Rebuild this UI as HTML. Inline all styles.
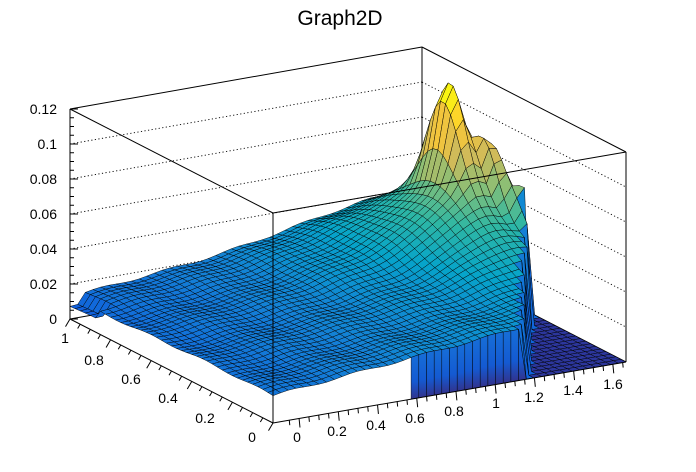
<!DOCTYPE html>
<html><head><meta charset="utf-8"><style>
html,body{margin:0;padding:0;background:#fff;}
svg{display:block;font-family:"Liberation Sans",sans-serif;}
</style></head><body>
<svg id="s" width="696" height="472" viewBox="0 0 696 472" xmlns="http://www.w3.org/2000/svg">
<defs><linearGradient id="wg" x1="0" y1="0" x2="0" y2="1"><stop offset="0" stop-color="rgb(22,110,215)"/><stop offset="0.6" stop-color="rgb(20,90,210)"/><stop offset="1" stop-color="rgb(50,50,140)"/></linearGradient></defs>
<rect width="696" height="472" fill="#fff"/>
<text x="340" y="25" font-size="21" text-anchor="middle">Graph2D</text>
<g id="back" stroke="#000" stroke-width="1" fill="none"></g>
<g id="surf" stroke="#000" stroke-width="0.45" stroke-linejoin="round"></g>
<g id="front" stroke="#000" stroke-width="1" fill="none"></g>
<g id="labels" font-size="14" fill="#000"></g>
</svg>
<script>
const NS="http://www.w3.org/2000/svg";
function P(xt,yt,zt){return [273+353*xt-203*yt, 423-61*xt-104*yt-210*zt];}
function el(g,tag,attrs,txt){const e=document.createElementNS(NS,tag);for(const k in attrs)e.setAttribute(k,attrs[k]);if(txt!==undefined)e.textContent=txt;document.getElementById(g).appendChild(e);return e;}
function line(g,a,b,extra){el(g,'line',Object.assign({x1:a[0],y1:a[1],x2:b[0],y2:b[1]},extra||{}));}
for(let k=1;k<=5;k++){
 const d=35*k;
 line('back',[70,319-d],[422,257-d],{'stroke-dasharray':'1.2,2.4','stroke-width':0.9});
 line('back',[422,257-d],[626,362-d],{'stroke-dasharray':'1.2,2.4','stroke-width':0.9});
}
line('back',[70,109],[422,47]);line('back',[422,47],[626,152]);
line('back',[422,47],[422,257]);line('back',[70,109],[70,319]);line('back',[626,152],[626,362]);
line('back',[70,319],[422,257]);line('back',[422,257],[626,362]);
const pal=[[0.2082,0.1664,0.5293],[0.0592,0.3599,0.8684],[0.0780,0.5041,0.8385],[0.0232,0.6419,0.7914],[0.1802,0.7178,0.6425],[0.5301,0.7492,0.4662],[0.8186,0.7328,0.3499],[0.9956,0.7862,0.1968],[0.9764,0.9832,0.0539]];
function col(v){v=Math.max(0,Math.min(1,v));const f=v*(pal.length-1);const i=Math.min(pal.length-2,Math.floor(f));const t=f-i;
 const c=pal[i].map((a,j)=>Math.round(255*(a+(pal[i+1][j]-a)*t)));return `rgb(${c[0]},${c[1]},${c[2]})`;}
function bound(yt){return 0.71+0.6*yt;}
function g(xt,yt,cx,cy,sx,sy){return Math.exp(-Math.pow((xt-cx)/sx,2)-Math.pow((yt-cy)/sy,2));}
function Z(xt,yt){
 if(xt>bound(yt))return 0;
 let z=0.11+0.17*xt+0.02*(1-yt)+0.006*Math.sin(xt*33+yt*5)+0.005*Math.sin(yt*23);
 z+=0.5*g(xt,yt,0.91,0.72,0.04,0.11);
 z+=0.32*g(xt,yt,0.97,0.62,0.025,0.09);
 z+=0.2*g(xt,yt,1.0,0.5,0.025,0.07);
 z+=0.2*g(xt,yt,0.88,0.62,0.13,0.28);
 z+=0.1*g(xt,yt,0.75,0.75,0.25,0.3);
 if(xt<0.03&&yt>0.85)z*=0.6;
 return z;
}
const NX=46,NY=40;
const quads=[];
for(let i=0;i<NX;i++)for(let j=0;j<NY;j++){
 const x0=i/NX,x1=(i+1)/NX,y0=j/NY,y1=(j+1)/NY;
 const z00=Z(x0,y0),z10=Z(x1,y0),z11=Z(x1,y1),z01=Z(x0,y1);
 const v=(z00+z10+z11+z01)/4;
 const mx=Math.max(z00,z10,z11,z01);
 let c=v*0.95+0.08;
 if(mx==0)c=0.03; else if(Math.min(z00,z10,z11,z01)==0)c=0.12+v*0.4;
 quads.push({d:(x0+x1)/2+(y0+y1)/2,pts:[P(x0,y0,z00),P(x1,y0,z10),P(x1,y1,z11),P(x0,y1,z01)],c:c});
}
quads.sort((a,b)=>b.d-a.d);
for(const q of quads){
 el('surf','polygon',{points:q.pts.map(p=>p[0].toFixed(1)+','+p[1].toFixed(1)).join(' '),fill:col(q.c)});
}
for(let i=0;i<NX;i++){
 const x0=i/NX,x1=(i+1)/NX;
 if(x0<0.37||x0>0.72)continue;
 const za=Z(x0,0),zb=Z(x1,0);
 const pts=[P(x0,0,za),P(x1,0,zb),P(x1,0,0),P(x0,0,0)];
 el('surf','polygon',{points:pts.map(p=>p[0].toFixed(1)+','+p[1].toFixed(1)).join(' '),fill:'url(#wg)'});
}
line('front',[70,109],[273,213]);line('front',[273,213],[626,152]);line('front',[273,213],[273,423]);
line('front',[70,319],[273,423]);line('front',[273,423],[626,362]);
for(let k=0;k<=24;k++){const y=319-8.75*k;line('front',[70,y],[k%4==0?78:74,y]);}
const zl=['0','0.02','0.04','0.06','0.08','0.1','0.12'];
zl.forEach((t,k)=>el('labels','text',{x:57,y:324-35*k,'text-anchor':'end'},t));
for(let k=0;k<=20;k++){const yt=k/20;const p=P(0,yt,0);const L=k%4==0?9:5;line('front',p,[p[0]-L*0.5,p[1]+L*0.85]);}
const yl=[['0',252,442],['0.2',205,423],['0.4',168,403],['0.6',131,384],['0.8',94,365],['1',65,343]];
yl.forEach(a=>el('labels','text',{x:a[1],y:a[2],'text-anchor':'middle'},a[0]));
const xmin=-0.133,xr=1.8;
for(let k=-1;k<=33;k++){const xv=k*0.05;const xt=(xv-xmin)/xr;if(xt<0||xt>1)continue;const p=P(xt,0,0);const L=k%4==0?9:5;line('front',p,[p[0]+L*0.1,p[1]+L]);}
const xl=[['0',297,442],['0.2',337,436],['0.4',376,430],['0.6',415,423],['0.8',454,416],['1',496,408],['1.2',534,402],['1.4',573,395],['1.6',613,389]];
xl.forEach(a=>el('labels','text',{x:a[1],y:a[2],'text-anchor':'middle'},a[0]));
</script>
</body></html>
